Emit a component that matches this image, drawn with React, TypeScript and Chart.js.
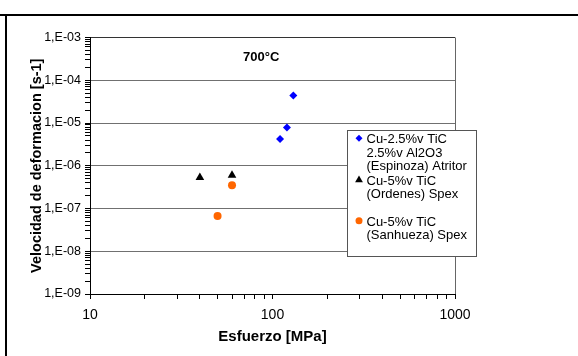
import React, { useEffect, useRef } from 'react';
import { Chart, registerables } from 'chart.js';

Chart.register(...registerables);

const CHART_TITLE = '700°C';
const X_TITLE = 'Esfuerzo [MPa]';
const Y_TITLE = 'Velocidad de deformacion [s-1]';

const X_MAJOR = [10, 100, 1000];
const X_TICK_LABELS = ['10', '100', '1000'];
const Y_MAJOR = [1e-9, 1e-8, 1e-7, 1e-6, 1e-5, 1e-4, 1e-3];
const Y_TICK_LABELS = ['1,E-09', '1,E-08', '1,E-07', '1,E-06', '1,E-05', '1,E-04', '1,E-03'];

const ESPINOZA_X = [110, 120, 130];
const ESPINOZA_Y = [4.2e-6, 7.9e-6, 4.4e-5];
const ORDENES_X = [40, 60];
const ORDENES_Y = [5.3e-7, 6.0e-7];
const SANHUEZA_X = [60, 50];
const SANHUEZA_Y = [3.5e-7, 6.7e-8];

const SERIES_LABELS = [
  ['Cu-2.5%v TiC', '2.5%v Al2O3', '(Espinoza) Atritor'],
  ['Cu-5%v TiC', '(Ordenes) Spex'],
  ['Cu-5%v TiC', '(Sanhueza) Spex'],
];
const SERIES_COLORS = ['#0000FF', '#000000', '#FF6600'];
const SERIES_STYLES = ['rectRot', 'triangle', 'circle'];
const SERIES_RADII = [4, 5, 4];

const FONT = "'Liberation Sans', Arial, sans-serif";

function withMinors(majors: number[]): number[] {
  const out: number[] = [];
  for (let i = 0; i < majors.length - 1; i++) {
    for (let m = 1; m <= 9; m++) out.push(m * majors[i]);
  }
  out.push(majors[majors.length - 1]);
  return out;
}

function majorIndex(majors: number[], v: number): number {
  for (let i = 0; i < majors.length; i++) {
    if (Math.abs(Math.log10(v) - Math.log10(majors[i])) < 1e-6) return i;
  }
  return -1;
}

function toPts(xs: number[], ys: number[]) {
  return xs.map((x, i) => ({ x, y: ys[i] }));
}

function drawMarker(ctx: CanvasRenderingContext2D, style: string, x: number, y: number, color: string, r: number) {
  ctx.save();
  ctx.fillStyle = color;
  ctx.beginPath();
  if (style === 'rectRot') {
    ctx.moveTo(x, y - r);
    ctx.lineTo(x + r, y);
    ctx.lineTo(x, y + r);
    ctx.lineTo(x - r, y);
    ctx.closePath();
  } else if (style === 'triangle') {
    ctx.moveTo(x, y - r);
    ctx.lineTo(x + r * 0.866, y + r / 2);
    ctx.lineTo(x - r * 0.866, y + r / 2);
    ctx.closePath();
  } else {
    ctx.arc(x, y, r, 0, Math.PI * 2);
  }
  ctx.fill();
  ctx.restore();
}

const overlayPlugin = {
  id: 'overlay',
  afterDraw(chart: any) {
    const ctx: CanvasRenderingContext2D = chart.ctx;
    const area = chart.chartArea;
    ctx.save();
    ctx.fillStyle = '#000';
    ctx.font = `bold 13px ${FONT}`;
    ctx.textAlign = 'center';
    ctx.textBaseline = 'alphabetic';
    ctx.fillText(CHART_TITLE, area.left + (area.right - area.left) * 0.469, area.top + 23);

    const bx = 347, by = 130, bw = 130, bh = 127;
    ctx.fillStyle = '#ffffff';
    ctx.fillRect(bx, by, bw, bh);
    ctx.strokeStyle = '#555555';
    ctx.lineWidth = 1;
    ctx.strokeRect(bx + 0.5, by + 0.5, bw - 1, bh - 1);

    const firstBaselines = [143.3, 185, 225.7];
    const lh = 13.4;
    ctx.font = `13px ${FONT}`;
    ctx.textAlign = 'left';
    SERIES_LABELS.forEach((lines, i) => {
      const b0 = firstBaselines[i];
      drawMarker(ctx, SERIES_STYLES[i], 359, b0 - 5, SERIES_COLORS[i], SERIES_RADII[i] - 0.5);
      ctx.fillStyle = '#000';
      lines.forEach((t, j) => ctx.fillText(t, 366.5, b0 + j * lh));
    });
    ctx.restore();
  },
};

export default function App() {
  const ref = useRef<HTMLCanvasElement | null>(null);

  useEffect(() => {
    if (!ref.current) return;
    const chart = new Chart(ref.current, {
      type: 'scatter',
      data: {
        datasets: [
          { label: SERIES_LABELS[0].join(' '), data: toPts(ESPINOZA_X, ESPINOZA_Y) },
          { label: SERIES_LABELS[1].join(' '), data: toPts(ORDENES_X, ORDENES_Y) },
          { label: SERIES_LABELS[2].join(' '), data: toPts(SANHUEZA_X, SANHUEZA_Y) },
        ].map((d, i) => ({
          ...d,
          pointStyle: SERIES_STYLES[i] as any,
          backgroundColor: SERIES_COLORS[i],
          borderColor: SERIES_COLORS[i],
          pointRadius: SERIES_RADII[i],
          pointBorderWidth: 0,
          showLine: false,
        })),
      },
      options: {
        animation: false,
        responsive: false,
        maintainAspectRatio: false,
        events: [],
        layout: { padding: { left: 0, right: 123, top: 37.5, bottom: 0 } },
        plugins: {
          legend: { display: false },
          tooltip: { enabled: false },
          title: { display: false },
        },
        scales: {
          x: {
            type: 'logarithmic',
            min: 10,
            max: 1000,
            afterBuildTicks: (scale: any) => {
              scale.ticks = withMinors(X_MAJOR).map((v) => ({ value: v, major: majorIndex(X_MAJOR, v) >= 0 }));
            },
            afterFit: (scale: any) => {
              scale.height = 62;
            },
            ticks: {
              autoSkip: false,
              maxRotation: 0,
              minRotation: 0,
              padding: 8,
              color: '#000',
              font: { family: FONT, size: 14 },
              callback: (v: any) => {
                const i = majorIndex(X_MAJOR, Number(v));
                return i >= 0 ? X_TICK_LABELS[i] : '';
              },
            },
            grid: {
              color: (c: any) => (c.tick && Math.abs(c.tick.value - 1000) < 1e-6 ? '#666666' : 'rgba(0,0,0,0)'),
              lineWidth: 1,
              tickLength: 5,
              tickColor: '#000',
              drawTicks: true,
            },
            border: { color: '#000', width: 1 },
            title: {
              display: true,
              text: X_TITLE,
              color: '#000',
              font: { family: FONT, size: 15, weight: 'bold' },
              padding: { top: 0, bottom: 10.5 },
            },
          },
          y: {
            type: 'logarithmic',
            min: 1e-9,
            max: 1e-3,
            afterBuildTicks: (scale: any) => {
              scale.ticks = withMinors(Y_MAJOR).map((v) => ({ value: v, major: majorIndex(Y_MAJOR, v) >= 0 }));
            },
            afterFit: (scale: any) => {
              scale.width = 90;
            },
            ticks: {
              autoSkip: false,
              padding: 4,
              color: '#000',
              font: { family: FONT, size: 12.5 },
              callback: (v: any) => {
                const i = majorIndex(Y_MAJOR, Number(v));
                return i >= 0 ? Y_TICK_LABELS[i] : '';
              },
            },
            grid: {
              color: (c: any) => {
                if (!c.tick) return 'rgba(0,0,0,0)';
                const i = majorIndex(Y_MAJOR, c.tick.value);
                if (i < 0) return 'rgba(0,0,0,0)';
                if (i === Y_MAJOR.length - 1) return '#333333';
                return '#707070';
              },
              lineWidth: 1,
              tickLength: 5,
              tickColor: '#000',
              drawTicks: true,
            },
            border: { color: '#000', width: 1 },
            title: {
              display: true,
              text: Y_TITLE,
              color: '#000',
              font: { family: FONT, size: 14.5, weight: 'bold' },
              padding: { top: 28, bottom: 0 },
            },
          },
        },
      },
      plugins: [overlayPlugin],
    });
    return () => chart.destroy();
  }, []);

  return (
    <div style={{ position: 'fixed', left: 0, top: 0, width: 578, height: 356, background: '#fff', overflow: 'hidden' }}>
      <canvas ref={ref} width={578} height={356} style={{ position: 'absolute', left: 0, top: 0, width: 578, height: 356 }} />
      <div style={{ position: 'absolute', left: 0, top: 14, width: 578, height: 2, background: '#000' }} />
      <div style={{ position: 'absolute', left: 5, top: 14, width: 2, height: 342, background: '#000' }} />
    </div>
  );
}
